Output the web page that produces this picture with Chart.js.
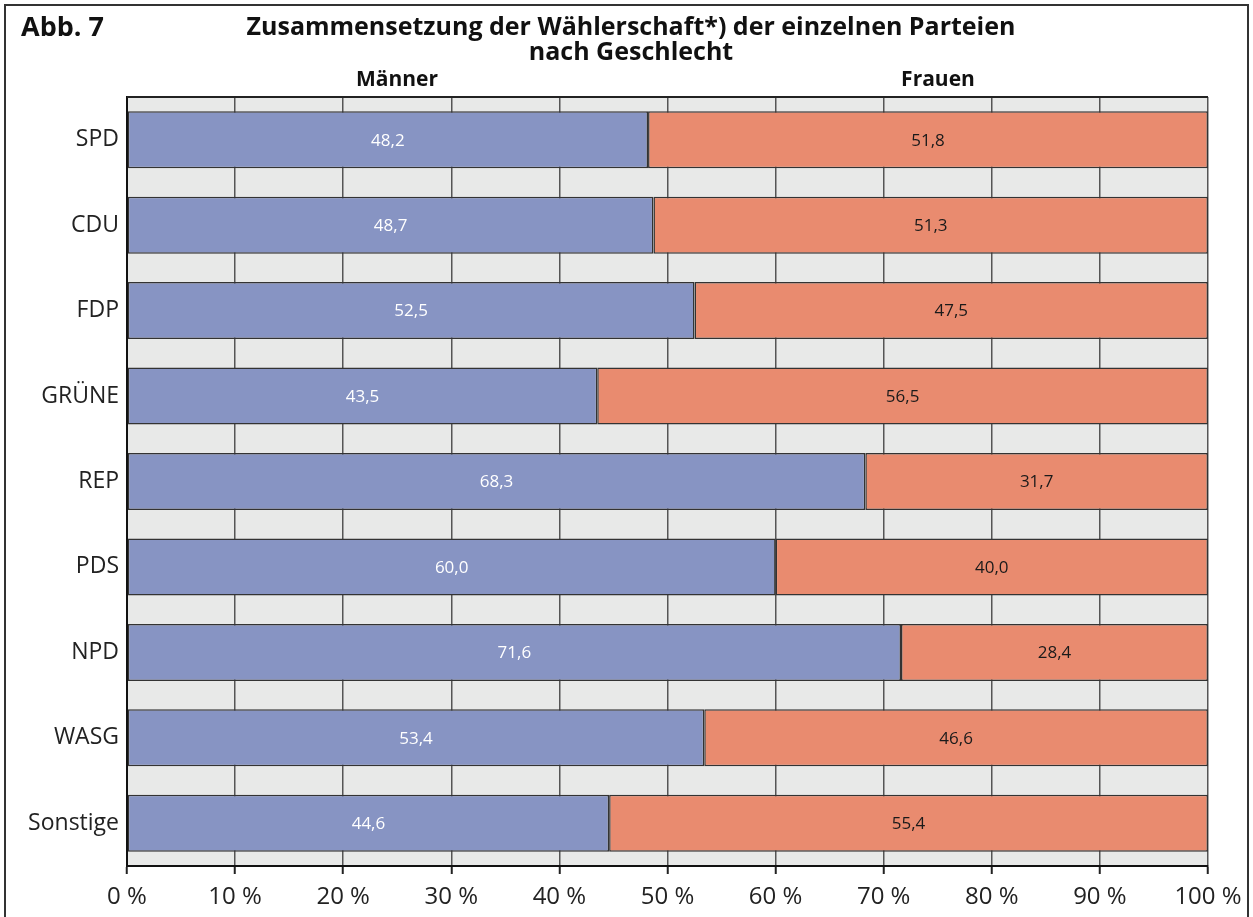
<!DOCTYPE html>
<html>
<head>
<meta charset="utf-8">
<script src="https://cdn.jsdelivr.net/npm/chart.js@4"></script>
<style>
  body { margin: 0; background: #fff; }
  #wrap { width: 1253px; height: 917px; position: relative; }
</style>
</head>
<body>
<div id="wrap"><canvas id="chart" width="1253" height="917"></canvas></div>
<script>
// Parteien und Anteile (Prozent)
const parteien = ['SPD', 'CDU', 'FDP', 'GRÜNE', 'REP', 'PDS', 'NPD', 'WASG', 'Sonstige'];
const maenner = [48.2, 48.7, 52.5, 43.5, 68.3, 60.0, 71.6, 53.4, 44.6];
const frauen = [51.8, 51.3, 47.5, 56.5, 31.7, 40.0, 28.4, 46.6, 55.4];
const xTicks = [0, 10, 20, 30, 40, 50, 60, 70, 80, 90, 100];

const FONT = "'Open Sans', 'DejaVu Sans', sans-serif";

// Hintergrund, Rahmen, Titel und Werte
const deko = {
    id: 'deko',
    beforeDraw(chart) {
        const { ctx, chartArea: a } = chart;
        ctx.save();
        ctx.fillStyle = '#e8e9e8';
        ctx.fillRect(a.left, a.top, a.right - a.left, a.bottom - a.top);
        ctx.restore();
    },
    afterDraw(chart) {
        const { ctx, chartArea: a } = chart;
        ctx.save();
        // Rahmen aussen
        ctx.strokeStyle = '#333';
        ctx.lineWidth = 2;
        ctx.beginPath();
        ctx.moveTo(5, 917);
        ctx.lineTo(5, 5);
        ctx.lineTo(1248, 5);
        ctx.lineTo(1248, 917);
        ctx.stroke();

        // obere Kante des Diagramms
        ctx.strokeStyle = '#222';
        ctx.lineWidth = 2;
        ctx.beginPath();
        ctx.moveTo(a.left, a.top);
        ctx.lineTo(a.right, a.top);
        ctx.stroke();

        ctx.fillStyle = '#111';
        ctx.textBaseline = 'middle';
        ctx.font = 'bold 27px ' + FONT;
        ctx.textAlign = 'left';
        ctx.fillText('Abb. 7', 21, 28);

        ctx.font = 'bold 25px ' + FONT;
        ctx.textAlign = 'center';
        ctx.fillText('Zusammensetzung der Wählerschaft*) der einzelnen Parteien', 631, 28);
        ctx.fillText('nach Geschlecht', 631, 53);
        ctx.font = 'bold 21px ' + FONT;
        ctx.fillText('Männer', 397, 80);
        ctx.fillText('Frauen', 938, 80);

        // Werte in den Balken
        ctx.font = '17px ' + FONT;
        chart.data.datasets.forEach((ds, i) => {
            chart.getDatasetMeta(i).data.forEach((bar, j) => {
                const mid = (bar.x + bar.base) / 2;
                ctx.fillStyle = i === 0 ? '#ffffff' : '#1a1a1a';
                ctx.fillText(ds.data[j].toFixed(1).replace('.', ','), mid, bar.y + 1);
            });
        });
        ctx.restore();
    }
};

new Chart(document.getElementById('chart'), {
    type: 'bar',
    data: {
        labels: parteien,
        datasets: [
            { label: 'Männer', data: maenner, backgroundColor: '#8794c3' },
            { label: 'Frauen', data: frauen, backgroundColor: '#e98b6f' }
        ]
    },
    options: {
        indexAxis: 'y',
        responsive: false,
        devicePixelRatio: 1,
        animation: false,
        layout: { padding: { top: 97, right: 45, left: 0, bottom: 0 } },
        datasets: {
            bar: {
                borderColor: '#333',
                borderWidth: 1.5,
                borderSkipped: false,
                categoryPercentage: 1,
                barPercentage: 0.667
            }
        },
        plugins: {
            legend: { display: false },
            tooltip: { enabled: false }
        },
        scales: {
            x: {
                stacked: true,
                min: 0,
                max: 100,
                afterBuildTicks: s => { s.ticks = xTicks.map(v => ({ value: v })); },
                afterFit: s => { s.height = 51; },
                ticks: {
                    color: '#222',
                    font: { family: FONT, size: 24 },
                    padding: 9,
                    callback: v => v + ' %'
                },
                grid: {
                    color: '#555',
                    lineWidth: 1.5,
                    tickColor: '#222',
                    tickWidth: 2,
                    tickLength: 8
                },
                border: { color: '#111', width: 2 }
            },
            y: {
                stacked: true,
                afterFit: s => { s.width = 127; },
                ticks: {
                    color: '#222',
                    font: { family: FONT, size: 23 },
                    padding: 8
                },
                grid: { display: false, drawTicks: false },
                border: { color: '#111', width: 2 }
            }
        }
    },
    plugins: [deko]
});
</script>
</body>
</html>
